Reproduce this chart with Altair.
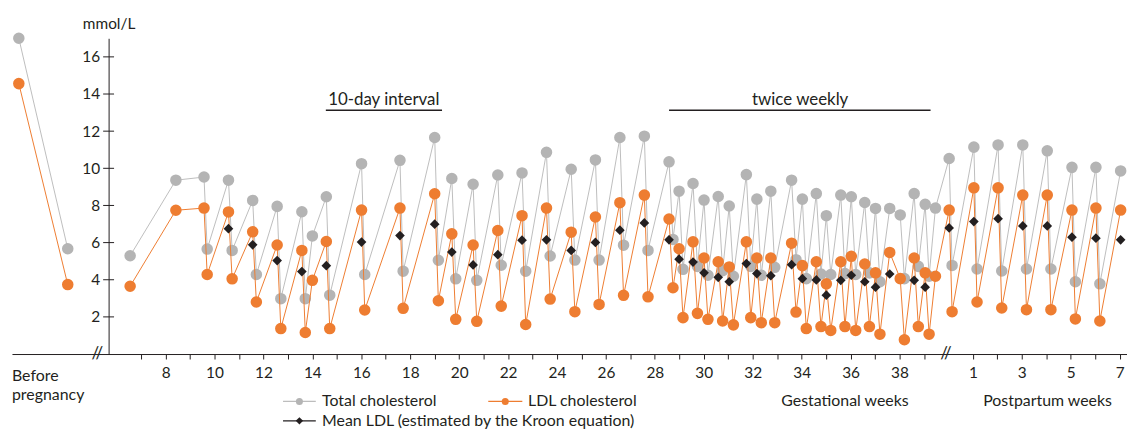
import altair as alt
import pandas as pd

# ---------------- data ----------------
# before pregnancy: two measurements, placed at fixed slots on the left
pre_slot = [2, 4]
pre_tc = [17.0, 5.67]
pre_ldl = [14.56, 3.74]

# gestational weeks
gest_week = [6.55, 8.42, 9.57, 9.70, 10.57, 10.72, 11.56, 11.71, 12.56, 12.71,
             13.57, 13.71, 14.00, 14.57, 14.71, 16.01, 16.14, 17.58, 17.71, 19.00,
             19.15, 19.70, 19.86, 20.57, 20.72, 21.58, 21.72, 22.57, 22.72, 23.57,
             23.72, 24.58, 24.73, 25.57, 25.72, 26.57, 26.72, 27.57, 27.72, 28.58,
             28.74, 28.99, 29.15, 29.56, 29.74, 30.01, 30.17, 30.59, 30.77, 31.04,
             31.21, 31.74, 31.92, 32.17, 32.35, 32.74, 32.90, 33.59, 33.77, 34.03,
             34.19, 34.60, 34.79, 35.01, 35.19, 35.60, 35.77, 36.03, 36.21, 36.58,
             36.77, 37.02, 37.20, 37.60, 38.03, 38.20, 38.60, 38.77, 39.05, 39.21,
             39.47]
gest_tc = [5.29, 9.36, 9.53, 5.65, 9.36, 5.58, 8.27, 4.28, 7.95, 2.98,
           7.66, 2.98, 6.36, 8.47, 3.17, 10.25, 4.28, 10.43, 4.46, 11.66,
           5.05, 9.45, 4.05, 9.14, 3.97, 9.64, 4.78, 9.75, 4.46, 10.86,
           5.28, 9.95, 5.06, 10.45, 5.06, 11.66, 5.86, 11.73, 5.58, 10.35,
           6.17, 8.77, 4.56, 9.18, 4.72, 8.29, 4.24, 8.48, 4.49, 7.97,
           4.19, 9.66, 4.72, 8.34, 4.24, 8.77, 4.67, 9.36, 5.08, 8.34,
           4.06, 8.64, 4.31, 7.45, 4.28, 8.56, 4.33, 8.47, 4.28, 8.16,
           4.37, 7.84, 3.89, 7.84, 7.49, 4.06, 8.64, 4.72, 8.06, 4.19,
           7.86]
gest_ldl = [3.65, 7.74, 7.86, 4.28, 7.65, 4.05, 6.58, 2.80, 5.87, 1.37,
            5.58, 1.16, 3.97, 6.06, 1.37, 7.75, 2.37, 7.86, 2.46, 8.63,
            2.87, 6.47, 1.87, 5.87, 1.76, 6.65, 2.58, 7.45, 1.59, 7.86,
            2.96, 6.56, 2.28, 7.38, 2.67, 8.15, 3.16, 8.56, 3.08, 7.27,
            3.57, 5.67, 1.96, 6.04, 2.19, 5.17, 1.87, 4.97, 1.78, 4.69,
            1.57, 6.04, 1.96, 5.17, 1.69, 5.17, 1.69, 5.97, 2.26, 4.76,
            1.37, 4.97, 1.48, 3.78, 1.27, 4.97, 1.48, 5.26, 1.27, 4.85,
            1.48, 4.37, 1.07, 5.47, 4.06, 0.77, 5.17, 1.48, 4.37, 1.07,
            4.19]
# mean LDL estimated by the Kroon equation (week, value)
kroon_gest_week = [10.57, 11.56, 12.56, 13.57, 14.57, 16.01, 17.58, 19.00, 19.70, 20.57,
                   21.58, 22.57, 23.57, 24.58, 25.57, 26.57, 27.57, 28.58, 28.99, 29.56,
                   30.01, 30.59, 31.04, 31.74, 32.17, 32.74, 33.59, 34.03, 34.60, 35.01,
                   35.60, 36.03, 36.58, 37.02, 37.60, 38.60, 39.05]
kroon_gest = [6.75, 5.88, 5.03, 4.44, 4.76, 6.03, 6.38, 6.99, 5.49, 4.80,
              5.35, 6.13, 6.15, 5.58, 6.01, 6.67, 7.06, 6.15, 5.11, 4.95,
              4.37, 4.13, 3.89, 4.87, 4.33, 4.22, 4.81, 4.06, 3.99, 3.17,
              3.97, 4.24, 3.89, 3.60, 4.31, 3.97, 3.60]

# postpartum weeks
post_week = [0.03, 0.15, 1.04, 1.17, 2.03, 2.18, 3.04, 3.19, 4.04, 4.19,
             5.05, 5.19, 6.03, 6.19, 7.04]
post_tc = [10.53, 4.77, 11.14, 4.58, 11.26, 4.47, 11.26, 4.58, 10.94, 4.58,
           10.05, 3.89, 10.05, 3.78, 9.86]
post_ldl = [7.75, 2.28, 8.95, 2.80, 8.95, 2.48, 8.56, 2.39, 8.56, 2.39,
            7.75, 1.89, 7.86, 1.78, 7.75]
kroon_post_week = [0.03, 1.04, 2.03, 3.04, 4.04, 5.05, 6.03, 7.04]
kroon_post = [6.79, 7.13, 7.29, 6.90, 6.90, 6.29, 6.24, 6.15]

# axis tick labels
gest_ticks = list(range(7, 40))
post_ticks = list(range(1, 8))
y_ticks = [2, 4, 6, 8, 10, 12, 14, 16]

# ---------------- layout ----------------
POST0 = 40.0          # postpartum week 0 placed after gestational week 40
D0, D1 = 1.72, 47.30
W, H = 1123, 318
YAXIS_POS = 5.67
BREAKS = [5.21, 39.9]
px_per = W / (D1 - D0)
y_off = -(YAXIS_POS - D0) * px_per

GRAY = "#b4b4b4"
GRAY_LINE = "#bdbdbd"
ORANGE = "#ee7d31"
BLACK = "#231f20"
FONT = "Lato"

def frame(pos, vals, seg):
    return pd.DataFrame({"pos": pos, "value": vals, "segment": seg})

tc_df = pd.concat([
    frame(pre_slot, pre_tc, "pre"),
    frame(gest_week, gest_tc, "main"),
    frame([POST0 + w for w in post_week], post_tc, "main"),
])
ldl_df = pd.concat([
    frame(pre_slot, pre_ldl, "pre"),
    frame(gest_week, gest_ldl, "main"),
    frame([POST0 + w for w in post_week], post_ldl, "main"),
])
kroon_df = pd.concat([
    frame(kroon_gest_week, kroon_gest, "main"),
    frame([POST0 + w for w in kroon_post_week], kroon_post, "main"),
])

x_vals = gest_ticks + [POST0 + p for p in post_ticks]
label_expr = ("datum.value <= 39 ? (datum.value % 2 == 0 ? toString(datum.value) : '') : "
              "((datum.value - 40) % 2 == 1 ? toString(datum.value - 40) : '')")

xscale = alt.Scale(domain=[D0, D1], nice=False, zero=False)
yscale = alt.Scale(domain=[0, 17], nice=False, zero=True)
xaxis = alt.Axis(values=x_vals, labelExpr=label_expr, title=None, grid=False,
                 tickSize=5, labelPadding=7, labelFont=FONT, labelFontSize=15.5,
                 labelColor=BLACK, domainColor=BLACK, tickColor=BLACK,
                 labelFlush=False, labelOverlap=False)
yaxis = alt.Axis(values=y_ticks, offset=y_off, ticks=False, tickSize=0, labelPadding=9,
                 grid=False, labelFont=FONT, labelFontSize=15.5, labelColor=BLACK,
                 domainColor=BLACK, title="mmol/L", titleAngle=0, titleX=0, titleY=-10,
                 titleAlign="center", titleBaseline="alphabetic", titleFont=FONT,
                 titleFontSize=15.5, titleFontWeight="normal", titleColor=BLACK)

def X(field):
    return alt.X(field, type="quantitative", scale=xscale, axis=xaxis)

def Y(field):
    return alt.Y(field, type="quantitative", scale=yscale, axis=yaxis)

def XD(v):
    return alt.X(datum=v, type="quantitative", scale=xscale, axis=xaxis)

def YD(v):
    return alt.Y(datum=v, type="quantitative", scale=yscale, axis=yaxis)

tc_line = alt.Chart(tc_df).mark_line(color=GRAY_LINE, strokeWidth=1).encode(
    x=X("pos"), y=Y("value"), detail="segment:N")
tc_pts = alt.Chart(tc_df).mark_circle(color=GRAY, size=135, opacity=1).encode(
    x=X("pos"), y=Y("value"))
ldl_line = alt.Chart(ldl_df).mark_line(color=ORANGE, strokeWidth=1).encode(
    x=X("pos"), y=Y("value"), detail="segment:N")
ldl_pts = alt.Chart(ldl_df).mark_circle(color=ORANGE, size=135, opacity=1).encode(
    x=X("pos"), y=Y("value"))
kroon_pts = alt.Chart(kroon_df).mark_point(shape="diamond", filled=True, size=95,
                                           color=BLACK, opacity=1).encode(
    x=X("pos"), y=Y("value"))

# y-axis ticks crossing the axis line
ytick_df = pd.DataFrame({"value": y_ticks})
ytick_marks = alt.Chart(ytick_df).mark_tick(orient="horizontal", size=11, thickness=1,
                                            color=BLACK, opacity=1).encode(
    x=XD(YAXIS_POS), y=Y("value"))

one = pd.DataFrame({"k": [0]})

# axis break marks
breaks = [alt.Chart(one).mark_text(text="//", font=FONT, fontSize=17, color=BLACK,
                                   baseline="middle", align="center").encode(
    x=XD(b), y=YD(0)) for b in BREAKS]

# interval annotations
ann_y_line = 13.13
ann_y_text = 13.42
interval_rules = [
    alt.Chart(one).mark_rule(color=BLACK, strokeWidth=1.6).encode(
        x=XD(a), x2=alt.X2(datum=b), y=YD(ann_y_line))
    for a, b in [(14.55, 19.30), (28.58, 39.27)]
]
interval_texts = [
    alt.Chart(one).mark_text(text=t, font=FONT, fontSize=17, color=BLACK,
                             baseline="alphabetic", align="center").encode(
        x=XD(c), y=YD(ann_y_text))
    for t, c in [("10-day interval", 16.92), ("twice weekly", 33.94)]
]

def ptext(txt, x, y, size=16, align="left", baseline="middle", **kw):
    return alt.Chart(one).mark_text(text=txt, font=FONT, fontSize=size, color=BLACK,
                                    align=align, baseline=baseline, **kw).encode(
        x=alt.value(x), y=alt.value(y))

texts = [
    ptext(["Before", "pregnancy"], 0, 345, baseline="alphabetic", lineHeight=19),
    ptext("Gestational weeks", 851 - 12, 370.7, align="center", baseline="alphabetic"),
    ptext("Postpartum weeks", 1055 - 12, 370.7, align="center", baseline="alphabetic"),
]

# legend
def leg_rule(x1, x2, y, color):
    return alt.Chart(one).mark_rule(color=color, strokeWidth=1.2).encode(
        x=alt.value(x1), x2=alt.value(x2), y=alt.value(y))

def leg_sym(x, y, color, shape, size):
    return alt.Chart(one).mark_point(shape=shape, filled=True, size=size, color=color,
                                     opacity=1).encode(x=alt.value(x), y=alt.value(y))

r1, r2 = 365.7, 385.3
legend = [
    leg_rule(273, 306, r1, GRAY_LINE), leg_sym(289.5, r1, GRAY, "circle", 50),
    ptext("Total cholesterol", 312.3, r1),
    leg_rule(479.7, 514, r1, ORANGE), leg_sym(496.8, r1, ORANGE, "circle", 50),
    ptext("LDL cholesterol", 519.7, r1),
    leg_rule(273, 306, r2, BLACK), leg_sym(289.5, r2, BLACK, "diamond", 55),
    ptext("Mean LDL (estimated by the Kroon equation)", 312.3, r2),
]

chart = alt.layer(
    tc_line, tc_pts, ldl_line, ldl_pts, kroon_pts, ytick_marks,
    *breaks, *interval_rules, *interval_texts, *texts, *legend
).properties(
    width=W, height=H,
    autosize=alt.AutoSizeParams(type="none"),
    padding={"left": 4, "top": 29, "right": 0, "bottom": 75},
).configure_view(stroke=None)

chart.save("out.html", embed_options={"renderer": "svg", "actions": False})
